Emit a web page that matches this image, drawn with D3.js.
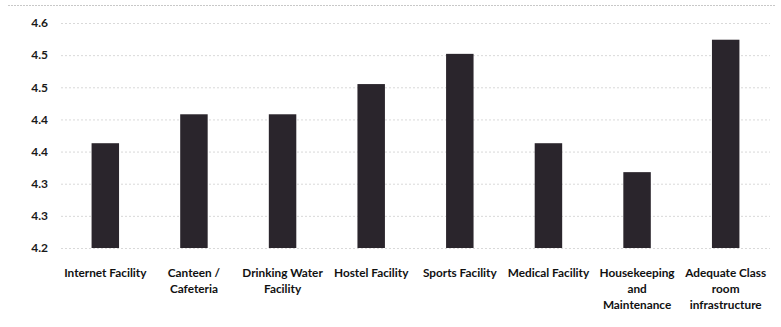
<!DOCTYPE html>
<html>
<head>
<meta charset="utf-8">
<script src="https://cdn.jsdelivr.net/npm/d3@7"></script>
<style>
html,body{margin:0;padding:0;background:#fff;}
svg{display:block;}
text{font-family:Lato,"Open Sans",sans-serif;font-weight:700;fill:#1a1a1a;}
</style>
</head>
<body>
<svg id="chart" width="781" height="327"></svg>
<script>
const categories = ["Internet Facility","Canteen /\nCafeteria","Drinking Water\nFacility","Hostel Facility","Sports Facility","Medical Facility","Housekeeping\nand\nMaintenance","Adequate Class\nroom\ninfrastructure"];
const values = [4.363, 4.408, 4.408, 4.455, 4.502, 4.363, 4.318, 4.524];
const tickValues = [4.20, 4.25, 4.30, 4.35, 4.40, 4.45, 4.50, 4.55];
const tickLabels = ["4.2","4.3","4.3","4.4","4.4","4.5","4.5","4.6"];

const svg = d3.select("#chart");
const m = {left: 61, right: 11, top: 23, bottom: 79};
const W = 781, H = 327;

const x = d3.scaleBand().domain(categories).range([m.left, W - m.right]).paddingInner(0.69).paddingOuter(0.345);
const y = d3.scaleLinear().domain([4.20, 4.55]).range([H - m.bottom, m.top]);

// top border line
svg.append("line").attr("x1", 8).attr("x2", 776).attr("y1", 5.5).attr("y2", 5.5)
  .attr("stroke", "#c8c8c8").attr("stroke-width", 1).attr("stroke-dasharray", "2,1");

// gridlines
const yAxis = d3.axisLeft(y).tickValues(tickValues)
  .tickSize(-(W - m.right - m.left))
  .tickFormat((d, i) => tickLabels[i]);
const gy = svg.append("g").attr("transform", `translate(${m.left},0)`).call(yAxis);
gy.select(".domain").remove();
gy.selectAll(".tick line").attr("stroke", "#d9d9d9").attr("stroke-dasharray", "2,2");
gy.selectAll(".tick text").attr("x", -13).attr("font-size", 12).style("fill", "#1a1a1a");

// bars
svg.append("g").selectAll("rect").data(values).join("rect")
  .attr("x", (d, i) => x(categories[i]))
  .attr("width", x.bandwidth())
  .attr("y", d => y(d))
  .attr("height", d => y(4.20) - y(d))
  .attr("fill", "#2a252c");

// x labels
const gx = svg.append("g");
categories.forEach(c => {
  const lines = c.split("\n");
  const t = gx.append("text")
    .attr("x", x(c) + x.bandwidth() / 2)
    .attr("y", 277)
    .attr("text-anchor", "middle")
    .attr("font-size", 11.8)
    .style("fill", "#111");
  lines.forEach((l, j) => {
    t.append("tspan").attr("x", x(c) + x.bandwidth() / 2).attr("dy", j === 0 ? 0 : 16).text(l);
  });
});
</script>
</body>
</html>
